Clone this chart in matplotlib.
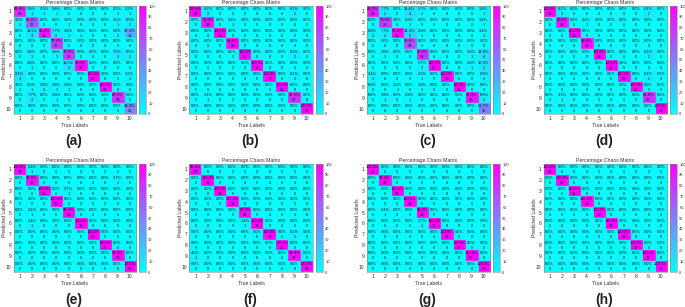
"""
Eight percentage confusion matrices, (a) to (h), in a 4 x 2 layout.
"""

import matplotlib
matplotlib.use("Agg")
import matplotlib.pyplot as plt
import numpy as np

plt.rcParams["font.family"] = ["Liberation Sans", "DejaVu Sans"]

class_labels = ["1", "2", "3", "4", "5", "6", "7", "8", "9", "10"]
cbar_ticks = [0, 10, 20, 30, 40, 50, 60, 70, 80, 90, 100]
panel_names = ["(a)", "(b)", "(c)", "(d)", "(e)", "(f)", "(g)", "(h)"]

# rows are predicted labels, columns are true labels
pct_a = [
    [84.8, 3.8, 2.9, 3.8, 0, 0, 0, 0, 2.5, 3.2],
    [3.0, 65.4, 0, 0, 3.8, 0, 0, 0, 2.5, 6.5],
    [0, 11.5, 91.2, 7.7, 3.8, 3.0, 0, 0, 5.0, 32.3],
    [0, 0, 0, 76.9, 0, 0, 0, 0, 0, 0],
    [0, 3.8, 0, 3.8, 76.9, 0, 0, 0, 7.5, 6.5],
    [0, 3.8, 0, 0, 11.5, 97.0, 0, 0, 0, 0],
    [9.1, 0, 0, 0, 0, 0, 100.0, 0, 0, 3.2],
    [3.0, 3.8, 5.9, 3.8, 3.8, 0, 0, 100.0, 0, 0],
    [0, 7.7, 0, 3.8, 0, 0, 0, 0, 82.5, 0],
    [0, 0, 0, 0, 0, 0, 0, 0, 0, 48.4],
]
cnt_a = [
    [28, 1, 1, 1, 0, 0, 0, 0, 1, 1],
    [1, 17, 0, 0, 1, 0, 0, 0, 1, 2],
    [0, 3, 31, 2, 1, 1, 0, 0, 2, 10],
    [0, 0, 0, 20, 0, 0, 0, 0, 0, 0],
    [0, 1, 0, 1, 20, 0, 0, 0, 3, 2],
    [0, 1, 0, 0, 3, 32, 0, 0, 0, 0],
    [3, 0, 0, 0, 0, 0, 29, 0, 0, 1],
    [1, 1, 2, 1, 1, 0, 0, 22, 0, 0],
    [0, 2, 0, 1, 0, 0, 0, 0, 33, 0],
    [0, 0, 0, 0, 0, 0, 0, 0, 0, 15],
]

pct_b = [
    [100.0, 6.2, 0, 0, 0, 0, 0, 0, 6.1, 0],
    [0, 90.6, 0, 3.4, 0, 0, 0, 0, 0, 0],
    [0, 0, 100.0, 0, 0, 0, 0, 0, 0, 0],
    [0, 0, 0, 96.6, 0, 0, 0, 0, 0, 0],
    [0, 0, 0, 0, 100.0, 0, 0, 0, 6.1, 0],
    [0, 0, 0, 0, 0, 100.0, 0, 0, 0, 0],
    [0, 0, 0, 0, 0, 0, 100.0, 0, 6.1, 0],
    [0, 0, 0, 0, 0, 0, 0, 100.0, 0, 0],
    [0, 3.1, 0, 0, 0, 0, 0, 0, 81.8, 0],
    [0, 0, 0, 0, 0, 0, 0, 0, 0, 100.0],
]
cnt_b = [
    [24, 2, 0, 0, 0, 0, 0, 0, 2, 0],
    [0, 29, 0, 1, 0, 0, 0, 0, 0, 0],
    [0, 0, 29, 0, 0, 0, 0, 0, 0, 0],
    [0, 0, 0, 28, 0, 0, 0, 0, 0, 0],
    [0, 0, 0, 0, 33, 0, 0, 0, 2, 0],
    [0, 0, 0, 0, 0, 36, 0, 0, 0, 0],
    [0, 0, 0, 0, 0, 0, 28, 0, 2, 0],
    [0, 0, 0, 0, 0, 0, 0, 29, 0, 0],
    [0, 1, 0, 0, 0, 0, 0, 0, 27, 0],
    [0, 0, 0, 0, 0, 0, 0, 0, 0, 30],
]

pct_c = [
    [89.7, 7.7, 0, 11.4, 5.7, 0, 0, 0, 0, 3.4],
    [0, 76.9, 0, 2.9, 0, 0, 0, 0, 0, 3.4],
    [6.9, 7.7, 97.4, 14.3, 2.9, 0, 0, 0, 0, 3.4],
    [0, 0, 0, 68.6, 0, 0, 0, 0, 0, 0],
    [0, 3.8, 0, 0, 80.0, 0, 0, 0, 3.6, 13.8],
    [0, 0, 0, 0, 5.7, 100.0, 0, 0, 3.6, 10.3],
    [3.4, 0, 0, 0, 2.9, 0, 100.0, 0, 0, 6.9],
    [0, 0, 2.6, 0, 2.9, 0, 0, 100.0, 0, 0],
    [0, 3.8, 0, 2.9, 0, 0, 0, 0, 92.9, 6.9],
    [0, 0, 0, 0, 0, 0, 0, 0, 0, 51.7],
]
cnt_c = [
    [26, 2, 0, 4, 2, 0, 0, 0, 0, 1],
    [0, 20, 0, 1, 0, 0, 0, 0, 0, 1],
    [2, 2, 38, 5, 1, 0, 0, 0, 0, 1],
    [0, 0, 0, 24, 0, 0, 0, 0, 0, 0],
    [0, 1, 0, 0, 28, 0, 0, 0, 1, 4],
    [0, 0, 0, 0, 2, 27, 0, 0, 1, 3],
    [1, 0, 0, 0, 1, 0, 28, 0, 0, 2],
    [0, 0, 1, 0, 1, 0, 0, 24, 0, 0],
    [0, 1, 0, 1, 0, 0, 0, 0, 26, 2],
    [0, 0, 0, 0, 0, 0, 0, 0, 0, 15],
]

pct_d = pct_b
cnt_d = cnt_b

pct_e = [
    [100.0, 2.4, 0, 0, 0, 0, 0, 0, 0, 0],
    [0, 92.9, 0, 0, 0, 0, 0, 0, 3.7, 0],
    [0, 0, 100.0, 0, 3.7, 0, 0, 0, 0, 0],
    [0, 0, 0, 100.0, 0, 0, 0, 0, 0, 0],
    [0, 2.4, 0, 0, 96.3, 0, 0, 0, 0, 0],
    [0, 2.4, 0, 0, 0, 100.0, 0, 0, 0, 0],
    [0, 0, 0, 0, 0, 0, 100.0, 0, 0, 0],
    [0, 0, 0, 0, 0, 0, 0, 100.0, 0, 0],
    [0, 0, 0, 0, 0, 0, 0, 0, 96.3, 0],
    [0, 0, 0, 0, 0, 0, 0, 0, 0, 100.0],
]
cnt_e = [
    [33, 1, 0, 0, 0, 0, 0, 0, 0, 0],
    [0, 39, 0, 0, 0, 0, 0, 0, 1, 0],
    [0, 0, 26, 0, 1, 0, 0, 0, 0, 0],
    [0, 0, 0, 29, 0, 0, 0, 0, 0, 0],
    [0, 1, 0, 0, 26, 0, 0, 0, 0, 0],
    [0, 1, 0, 0, 0, 32, 0, 0, 0, 0],
    [0, 0, 0, 0, 0, 0, 25, 0, 0, 0],
    [0, 0, 0, 0, 0, 0, 0, 27, 0, 0],
    [0, 0, 0, 0, 0, 0, 0, 0, 26, 0],
    [0, 0, 0, 0, 0, 0, 0, 0, 0, 30],
]

pct_f = [
    [96.0, 0, 0, 0, 0, 0, 0, 0, 0, 0],
    [0, 100.0, 0, 0, 0, 0, 0, 0, 0, 0],
    [0, 0, 100.0, 0, 0, 0, 0, 0, 0, 0],
    [0, 0, 0, 100.0, 0, 0, 0, 0, 0, 0],
    [0, 0, 0, 0, 97.6, 0, 0, 0, 0, 0],
    [0, 0, 0, 0, 2.4, 100.0, 0, 0, 0, 0],
    [0, 0, 0, 0, 0, 0, 100.0, 0, 6.2, 0],
    [0, 0, 0, 0, 0, 0, 0, 100.0, 0, 0],
    [4.0, 0, 0, 0, 0, 0, 0, 0, 93.8, 0],
    [0, 0, 0, 0, 0, 0, 0, 0, 0, 100.0],
]
cnt_f = [
    [24, 0, 0, 0, 0, 0, 0, 0, 0, 0],
    [0, 29, 0, 0, 0, 0, 0, 0, 0, 0],
    [0, 0, 24, 0, 0, 0, 0, 0, 0, 0],
    [0, 0, 0, 26, 0, 0, 0, 0, 0, 0],
    [0, 0, 0, 0, 41, 0, 0, 0, 0, 0],
    [0, 0, 0, 0, 1, 31, 0, 0, 0, 0],
    [0, 0, 0, 0, 0, 0, 33, 0, 2, 0],
    [0, 0, 0, 0, 0, 0, 0, 36, 0, 0],
    [1, 0, 0, 0, 0, 0, 0, 0, 30, 0],
    [0, 0, 0, 0, 0, 0, 0, 0, 0, 33],
]

pct_g = [
    [100.0, 0, 0, 0, 0, 0, 0, 0, 0, 0],
    [0, 97.6, 0, 0, 0, 0, 0, 0, 0, 0],
    [0, 0, 100.0, 0, 0, 0, 0, 0, 0, 0],
    [0, 0, 0, 100.0, 0, 0, 0, 0, 0, 0],
    [0, 2.4, 0, 0, 96.3, 0, 0, 0, 0, 0],
    [0, 0, 0, 0, 3.7, 100.0, 0, 0, 0, 0],
    [0, 0, 0, 0, 0, 0, 100.0, 0, 0, 0],
    [0, 0, 0, 0, 0, 0, 0, 100.0, 0, 0],
    [0, 0, 0, 0, 0, 0, 0, 0, 100.0, 0],
    [0, 0, 0, 0, 0, 0, 0, 0, 0, 100.0],
]
cnt_g = [
    [35, 0, 0, 0, 0, 0, 0, 0, 0, 0],
    [0, 41, 0, 0, 0, 0, 0, 0, 0, 0],
    [0, 0, 26, 0, 0, 0, 0, 0, 0, 0],
    [0, 0, 0, 29, 0, 0, 0, 0, 0, 0],
    [0, 1, 0, 0, 26, 0, 0, 0, 0, 0],
    [0, 0, 0, 0, 1, 32, 0, 0, 0, 0],
    [0, 0, 0, 0, 0, 0, 25, 0, 0, 0],
    [0, 0, 0, 0, 0, 0, 0, 27, 0, 0],
    [0, 0, 0, 0, 0, 0, 0, 0, 27, 0],
    [0, 0, 0, 0, 0, 0, 0, 0, 0, 30],
]

pct_h = [
    [100.0, 0, 0, 0, 0, 0, 0, 0, 0, 0],
    [0, 100.0, 0, 0, 0, 0, 0, 0, 0, 0],
    [0, 0, 100.0, 0, 0, 0, 0, 0, 0, 0],
    [0, 0, 0, 100.0, 0, 0, 0, 0, 0, 0],
    [0, 0, 0, 0, 100.0, 0, 0, 0, 0, 0],
    [0, 0, 0, 0, 0, 100.0, 0, 0, 0, 0],
    [0, 0, 0, 0, 0, 0, 100.0, 0, 0, 0],
    [0, 0, 0, 0, 0, 0, 0, 100.0, 0, 0],
    [0, 0, 0, 0, 0, 0, 0, 0, 100.0, 0],
    [0, 0, 0, 0, 0, 0, 0, 0, 0, 100.0],
]
cnt_h = [
    [26, 0, 0, 0, 0, 0, 0, 0, 0, 0],
    [0, 32, 0, 0, 0, 0, 0, 0, 0, 0],
    [0, 0, 26, 0, 0, 0, 0, 0, 0, 0],
    [0, 0, 0, 29, 0, 0, 0, 0, 0, 0],
    [0, 0, 0, 0, 33, 0, 0, 0, 0, 0],
    [0, 0, 0, 0, 0, 36, 0, 0, 0, 0],
    [0, 0, 0, 0, 0, 0, 29, 0, 0, 0],
    [0, 0, 0, 0, 0, 0, 0, 29, 0, 0],
    [0, 0, 0, 0, 0, 0, 0, 0, 33, 0],
    [0, 0, 0, 0, 0, 0, 0, 0, 0, 30],
]

all_pct = [pct_a, pct_b, pct_c, pct_d, pct_e, pct_f, pct_g, pct_h]
all_cnt = [cnt_a, cnt_b, cnt_c, cnt_d, cnt_e, cnt_f, cnt_g, cnt_h]

FIG_W, FIG_H = 685, 307
# left/right pixel edges of each heatmap, top/bottom per row
X_EDGES = [(13.5, 136), (189.5, 313), (366.5, 490), (543.5, 667)]
Y_EDGES = [(6, 114), (164, 272)]
LABEL_Y = [140.5, 300]
TEXT_COLOR = "#333333"


def add_axes_px(fig, left, top, right, bottom):
    """Add an axes given in pixels from the top left corner."""
    return fig.add_axes([left / FIG_W, 1 - bottom / FIG_H,
                         (right - left) / FIG_W, (bottom - top) / FIG_H])


fig = plt.figure(figsize=(FIG_W / 100, FIG_H / 100), dpi=100)

for i, name in enumerate(panel_names):
    left, right = X_EDGES[i % 4]
    top, bottom = Y_EDGES[i // 4]
    pct = np.array(all_pct[i], dtype=float)
    cnt = np.array(all_cnt[i])

    ax = add_axes_px(fig, left, top, right, bottom)
    im = ax.imshow(pct, cmap="cool", vmin=0, vmax=100, aspect="auto")

    # light cell borders
    ax.set_xticks(np.arange(-0.5, 10, 1), minor=True)
    ax.set_yticks(np.arange(-0.5, 10, 1), minor=True)
    ax.grid(which="minor", color="#66c8e8", linewidth=0.25)
    ax.tick_params(which="minor", length=0)

    ax.set_xticks(range(10), class_labels)
    ax.set_yticks(range(10), class_labels)
    ax.tick_params(length=0, labelsize=3.6, pad=1.5, labelcolor=TEXT_COLOR)
    ax.set_xlabel("True Labels", fontsize=3.7, labelpad=1.5, color=TEXT_COLOR)
    ax.set_ylabel("Predicted Labels", fontsize=3.7, labelpad=-0.8, color=TEXT_COLOR)
    ax.set_title("Percentage Chaos Matrix", fontsize=3.7, pad=1.2, color=TEXT_COLOR)
    for spine in ax.spines.values():
        spine.set_color("#888888")
        spine.set_linewidth(0.4)

    for r in range(10):
        for c in range(10):
            ax.text(c, r - 0.22, f"{pct[r, c]:.1f}%", ha="center", va="center",
                    fontsize=2.9, color="#111111")
            ax.text(c, r + 0.24, str(cnt[r, c]), ha="center", va="center",
                    fontsize=2.9, color="#111111")

    # colorbar
    cax = add_axes_px(fig, right + 3.2, top, right + 10.2, bottom)
    cbar = fig.colorbar(im, cax=cax, ticks=cbar_ticks)
    cbar.ax.tick_params(length=0, labelsize=2.9, pad=1.5, labelcolor=TEXT_COLOR)
    cbar.outline.set_edgecolor("#888888")
    cbar.outline.set_linewidth(0.4)

    fig.text((left + right - 2) / 2 / FIG_W, 1 - LABEL_Y[i // 4] / FIG_H, name,
             ha="center", va="center", fontsize=10, fontweight="bold", color="#222222")

fig.savefig("out.png", dpi=100)
plt.close(fig)
